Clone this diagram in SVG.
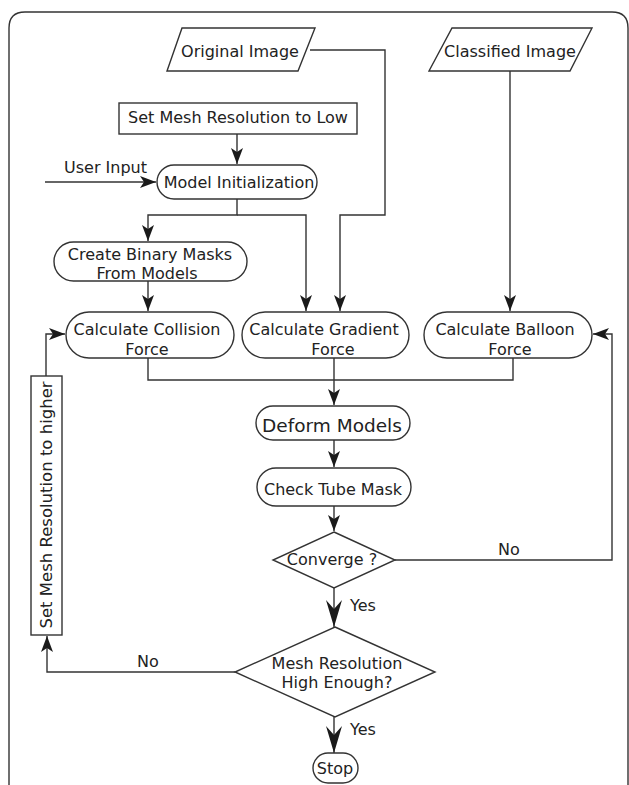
<svg xmlns="http://www.w3.org/2000/svg" width="629" height="785" viewBox="0 0 629 785">
<style>
.s{fill:#fff;stroke:#333;stroke-width:1.4}
.c{fill:none;stroke:#333;stroke-width:1.4}
text{font-family:"DejaVu Sans",sans-serif;font-size:16px;fill:#222;text-anchor:middle}
.l{text-anchor:start}
</style>
<defs>
<marker id="a" markerUnits="userSpaceOnUse" markerWidth="18" markerHeight="14" refX="16" refY="7" orient="auto">
<path d="M0,1 L16,7 L0,13 L4,7 z" fill="#1a1a1a"/>
</marker>
<marker id="b" markerUnits="userSpaceOnUse" markerWidth="28" markerHeight="18" refX="27" refY="9" orient="auto">
<path d="M0,1 L27,9 L0,17 L9,9 z" fill="#1a1a1a"/>
</marker>
</defs>
<rect x="0" y="0" width="629" height="785" fill="#fff"/>
<path class="c" d="M9,785 L9,28 Q9,12 25,12 L612,12 Q628,12 628,28 L628,785"/>
<g id="connectors">
<path class="c" d="M310,50 L385,50 L385,215 L340,215 L340,311" marker-end="url(#a)"/>
<path class="c" d="M510,71 L510,311" marker-end="url(#a)"/>
<path class="c" d="M237,134 L237,164" marker-end="url(#a)"/>
<path class="c" d="M45,182 L156,182" marker-end="url(#a)"/>
<path class="c" d="M237,199 L237,215 L148,215 L148,241" marker-end="url(#a)"/>
<path class="c" d="M237,215 L306,215 L306,311" marker-end="url(#a)"/>
<path class="c" d="M148,281 L148,311" marker-end="url(#a)"/>
<path class="c" d="M148,358 L148,380 L513,380 L513,358"/>
<path class="c" d="M334,358 L334,405" marker-end="url(#a)"/>
<path class="c" d="M334,440 L334,467" marker-end="url(#a)"/>
<path class="c" d="M334,506 L334,531" marker-end="url(#a)"/>
<path class="c" d="M395,560 L612,560 L612,334 L593,334" marker-end="url(#a)"/>
<path class="c" d="M334,588 L334,627" marker-end="url(#b)"/>
<path class="c" d="M235,672 L47,672 L47,636" marker-end="url(#a)"/>
<path class="c" d="M46,376 L46,334 L65,334" marker-end="url(#a)"/>
<path class="c" d="M334,717 L334,753" marker-end="url(#b)"/>
<text class="l" x="498" y="555">No</text>
<text class="l" x="350" y="611">Yes</text>
<text class="l" x="137" y="667">No</text>
<text class="l" x="350" y="735">Yes</text>
<text class="l" x="64" y="173">User Input</text>
</g>
<g id="original-image">
<polygon class="s" points="182,28 315,28 298,71 167,71"/>
<text x="240" y="57">Original Image</text>
</g>
<g id="classified-image">
<polygon class="s" points="452,28 592,28 570,71 429,71"/>
<text x="510" y="57">Classified Image</text>
</g>
<g id="set-mesh-low">
<rect class="s" x="119" y="103" width="238" height="31"/>
<text x="238" y="123">Set Mesh Resolution to Low</text>
</g>
<g id="model-init">
<rect class="s" x="157" y="165" width="160" height="34" rx="17"/>
<text x="239" y="188">Model Initialization</text>
</g>
<g id="binary-masks">
<rect class="s" x="54" y="242" width="193" height="39" rx="19.5"/>
<text x="150" y="260">Create Binary Masks</text>
<text x="147" y="279">From Models</text>
</g>
<g id="collision">
<rect class="s" x="66" y="312" width="168" height="46" rx="23"/>
<text x="147" y="335">Calculate Collision</text>
<text x="147" y="355">Force</text>
</g>
<g id="gradient">
<rect class="s" x="242" y="312" width="167" height="46" rx="23"/>
<text x="324" y="335">Calculate Gradient</text>
<text x="333" y="355">Force</text>
</g>
<g id="balloon">
<rect class="s" x="424" y="312" width="168" height="46" rx="23"/>
<text x="505" y="335">Calculate Balloon</text>
<text x="510" y="355">Force</text>
</g>
<g id="deform">
<rect class="s" x="256" y="406" width="154" height="34" rx="17"/>
<text x="332" y="432" style="font-size:18.5px">Deform Models</text>
</g>
<g id="tube-mask">
<rect class="s" x="257" y="468" width="154" height="38" rx="19"/>
<text x="333" y="495">Check Tube Mask</text>
</g>
<g id="converge">
<polygon class="s" points="334,532 395,560 334,588 273,560"/>
<text x="332" y="565">Converge ?</text>
</g>
<g id="mesh-high">
<polygon class="s" points="335,627 435,672 335,717 235,672"/>
<text x="337" y="669">Mesh Resolution</text>
<text x="337" y="688">High Enough?</text>
</g>
<g id="set-mesh-higher">
<rect class="s" x="31" y="376" width="31" height="259"/>
<text transform="translate(52,505) rotate(-90)" style="font-size:16.5px">Set Mesh Resolution to higher</text>
</g>
<g id="stop">
<rect class="s" x="313" y="753" width="45" height="30" rx="15"/>
<text x="335" y="774">Stop</text>
</g>
</svg>
